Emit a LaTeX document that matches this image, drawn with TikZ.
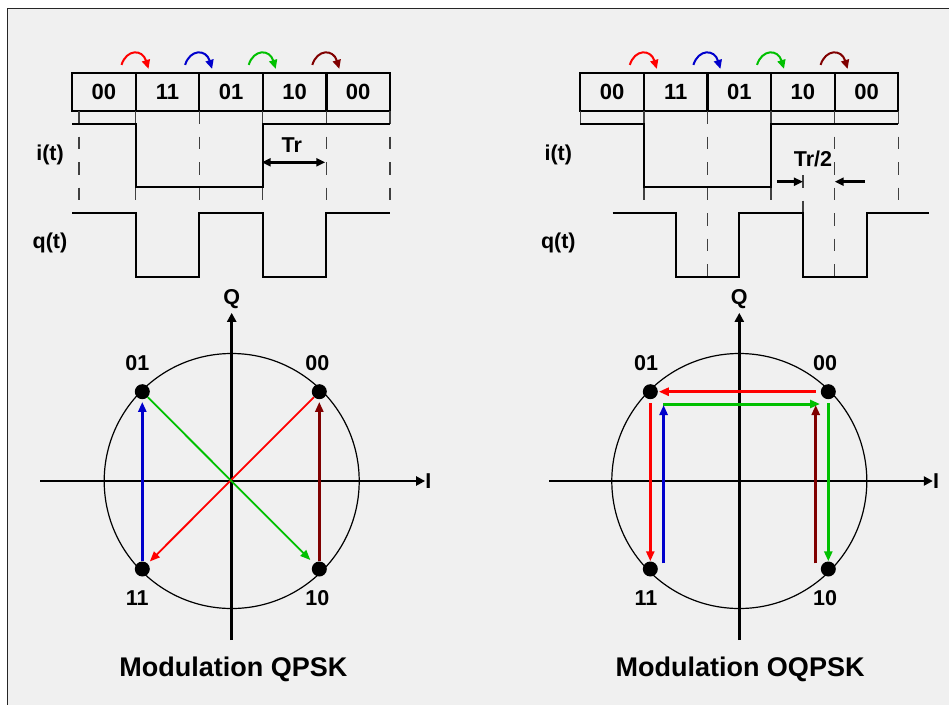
\documentclass[tikz,border=0pt]{standalone}
\usepackage{fontspec}
\setmainfont{Liberation Sans}
\usetikzlibrary{arrows.meta,calc}
\definecolor{bggray}{HTML}{F0F0F0}
\definecolor{darkred}{HTML}{800000}
\definecolor{qgreen}{HTML}{00C000}
\definecolor{qblue}{HTML}{0000CC}
\tikzset{
  bitbox/.style={draw, line width=2.2pt, minimum width=63.6pt, minimum height=38.3pt, inner sep=0pt, font=\fontsize{22}{24}\selectfont\bfseries},
  lbl/.style={inner sep=0pt, font=\fontsize{21.5}{24}\selectfont\bfseries},
  modtitle/.style={inner sep=0pt, font=\fontsize{27}{30}\selectfont\bfseries},
  wave/.style={line width=2pt, line join=miter},
  bitgrid/.style={line width=1.3pt, black!75, dash pattern=on 12.5pt off 13pt},
  dot/.style={circle, fill=black, inner sep=0pt, minimum size=15pt},
  qaxis/.style={line width=2.8pt, -{Triangle[length=9pt,width=9pt]}},
  hop/.style={line width=2pt, -{Triangle[length=9pt,width=8pt]}},
  fat/.style={line width=3pt, -{Triangle[length=10pt,width=8pt]}},
  slim/.style={line width=1.8pt, -{Triangle[length=10pt,width=8pt]}},
}
\begin{document}
\begin{tikzpicture}[x=1pt, y=-1pt]
    \useasboundingbox (0,0) rectangle (949,704);
    \fill[white] (0,0) rectangle (949,704);
    \draw[line width=1.8pt, black!85, fill=bggray] (7.5,8.5) rectangle (952,707);
    % QPSK bit boxes
    \node[bitbox] (l1) at (103.8,91.85) {00};
    \node[bitbox] (l2) at (167.4,91.85) {11};
    \node[bitbox] (l3) at (231.0,91.85) {01};
    \node[bitbox] (l4) at (294.6,91.85) {10};
    \node[bitbox] (l5) at (358.2,91.85) {00};
    \draw[hop, red] ([shift={(-13,-6.7)}]l2.north west) .. controls +(5,-16) and +(-6,-20) .. ([shift={(14,-2.7)}]l2.north west);
    \draw[hop, qblue] ([shift={(-13,-6.7)}]l3.north west) .. controls +(5,-16) and +(-6,-20) .. ([shift={(14,-2.7)}]l3.north west);
    \draw[hop, qgreen] ([shift={(-13,-6.7)}]l4.north west) .. controls +(5,-16) and +(-6,-20) .. ([shift={(14,-2.7)}]l4.north west);
    \draw[hop, darkred] ([shift={(-13,-6.7)}]l5.north west) .. controls +(5,-16) and +(-6,-20) .. ([shift={(14,-2.7)}]l5.north west);
    % QPSK time lines
    \draw[bitgrid] (79,111) -- (79,202);
    \draw[bitgrid] (135.6,111) -- (135.6,202);
    \draw[bitgrid] (199.2,111) -- (199.2,202);
    \draw[bitgrid] (262.8,111) -- (262.8,202);
    \draw[bitgrid] (326.4,111) -- (326.4,202);
    \draw[bitgrid] (390,111) -- (390,202);
    \draw[wave] (72,123.5) -- (135.6,123.5) -- (135.6,187.3) -- (262.8,187.3) -- (262.8,123.5) -- (390,123.5);
    \draw[wave] (72,213.3) -- (135.6,213.3) -- (135.6,276.7) -- (199.2,276.7) -- (199.2,213.3) -- (262.8,213.3) -- (262.8,276.7) -- (326.4,276.7) -- (326.4,213.3) -- (390,213.3);
    \node[lbl] (il) at (50,155) {i(t)};
    \node[lbl] (ql) at (50,242.7) {q(t)};
    \node[lbl] (tr) at (291.7,145.3) {Tr};
    \draw[line width=2.5pt, {Triangle[length=9pt,width=8pt]}-{Triangle[length=9pt,width=8pt]}] (l4.south west |- 0,162.3) -- (l5.south west |- 0,162.3);
    % OQPSK bit boxes
    \node[bitbox] (r1) at (612.1,91.85) {00};
    \node[bitbox] (r2) at (675.7,91.85) {11};
    \node[bitbox] (r3) at (739.3,91.85) {01};
    \node[bitbox] (r4) at (802.9,91.85) {10};
    \node[bitbox] (r5) at (866.5,91.85) {00};
    \draw[hop, red] ([shift={(-13,-6.7)}]r2.north west) .. controls +(5,-16) and +(-6,-20) .. ([shift={(14,-2.7)}]r2.north west);
    \draw[hop, qblue] ([shift={(-13,-6.7)}]r3.north west) .. controls +(5,-16) and +(-6,-20) .. ([shift={(14,-2.7)}]r3.north west);
    \draw[hop, qgreen] ([shift={(-13,-6.7)}]r4.north west) .. controls +(5,-16) and +(-6,-20) .. ([shift={(14,-2.7)}]r4.north west);
    \draw[hop, darkred] ([shift={(-13,-6.7)}]r5.north west) .. controls +(5,-16) and +(-6,-20) .. ([shift={(14,-2.7)}]r5.north west);
    % OQPSK time lines
    \draw[bitgrid] (580.3,111) -- (580.3,123.5);
    \draw[bitgrid] (644,111) -- (644,202);
    \draw[bitgrid] (707.7,111) -- (707.7,277);
    \draw[bitgrid] (771.1,111) -- (771.1,202);
    \draw[bitgrid] (834.7,111) -- (834.7,277);
    \draw[bitgrid] (898.3,111) -- (898.3,202);
    \draw[bitgrid] (802.9,175) -- (802.9,213);
    \draw[wave] (580.3,123.5) -- (644,123.5) -- (644,187.3) -- (771.1,187.3) -- (771.1,123.5) -- (898.3,123.5);
    \draw[wave] (612.7,213.3) -- (675.7,213.3) -- (675.7,276.7) -- (739.3,276.7) -- (739.3,213.3) -- (802.9,213.3) -- (802.9,276.7) -- (866.5,276.7) -- (866.5,213.3) -- (929.3,213.3);
    \node[lbl] (ir) at (558.3,155) {i(t)};
    \node[lbl] (qr) at (558.3,242.7) {q(t)};
    \node[lbl] (trh) at (813,159) {Tr/2};
    \coordinate (ha) at (802.9,181.7);
    \coordinate (hb) at (834.7,181.7);
    \draw[line width=2.5pt, -{Triangle[length=9pt,width=8pt]}] ($(ha)+(-26,0)$) -- (ha);
    \draw[line width=2.5pt, -{Triangle[length=9pt,width=8pt]}] ($(hb)+(30,0)$) -- (hb);
    % QPSK constellation
    \coordinate (o1) at (231.7,481);
    \draw[line width=1.2pt] (o1) circle[radius=127.5pt];
    \node[lbl] (xi1) at (428.3,481) {I};
    \node[lbl] (yq1) at (231.7,299) {Q};
    \draw[qaxis] (40,481) -- (xi1.west);
    \draw[qaxis, shorten >=4pt] (231.7,640) -- (yq1.south);
    \node[dot] (a01) at (142.3,391.7) {};
    \node[dot] (a00) at (319.3,391.7) {};
    \node[dot] (a11) at (142.3,569) {};
    \node[dot] (a10) at (319.3,569) {};
    \node[lbl] (n01) at (137.3,363.3) {01};
    \node[lbl] (n00) at (317.3,363.3) {00};
    \node[lbl] (n11) at (137.3,598.3) {11};
    \node[lbl] (n10) at (317.3,598.3) {10};
    \draw[slim, red, shorten >=3pt] (a00) -- (a11);
    \draw[slim, qgreen, shorten >=5pt] (a01) -- (a10);
    \draw[fat, qblue, shorten >=2.5pt] (a11) -- (a01);
    \draw[fat, darkred, shorten >=2.5pt] (a10) -- (a00);
    \node[modtitle] (t1) at (233.3,669) {Modulation QPSK};
    % OQPSK constellation
    \coordinate (o2) at (739.3,481);
    \draw[line width=1.2pt] (o2) circle[radius=127.5pt];
    \node[lbl] (xi2) at (936,481) {I};
    \node[lbl] (yq2) at (739.3,299) {Q};
    \draw[qaxis] (549,481) -- (xi2.west);
    \draw[qaxis, shorten >=4pt] (739.3,640) -- (yq2.south);
    \node[dot] (b01) at (650.3,391.7) {};
    \node[dot] (b00) at (828.3,391.7) {};
    \node[dot] (b11) at (650.3,569) {};
    \node[dot] (b10) at (828.3,569) {};
    \node[lbl] (m01) at (646,363.3) {01};
    \node[lbl] (m00) at (825,363.3) {00};
    \node[lbl] (m11) at (646,598.3) {11};
    \node[lbl] (m10) at (825,598.3) {10};
    \draw[fat, red, shorten <=4.8pt, shorten >=0.8pt] (b00) -- (b01);
    \draw[fat, qgreen] ($(b01)+(12.7,12.3)$) -- ($(b00)+(-8.3,12.3)$);
    \draw[fat, red, shorten <=4pt] (b01) -- (b11);
    \draw[fat, qblue] ($(b11)+(13.3,-5.7)$) -- ($(b01)+(13.3,13.3)$);
    \draw[fat, darkred] ($(b10)+(-12.6,-5.7)$) -- ($(b00)+(-12.6,13.3)$);
    \draw[fat, qgreen, shorten <=4pt] (b00) -- (b10);
    \node[modtitle] (t2) at (740,669) {Modulation OQPSK};
\end{tikzpicture}
\end{document}
